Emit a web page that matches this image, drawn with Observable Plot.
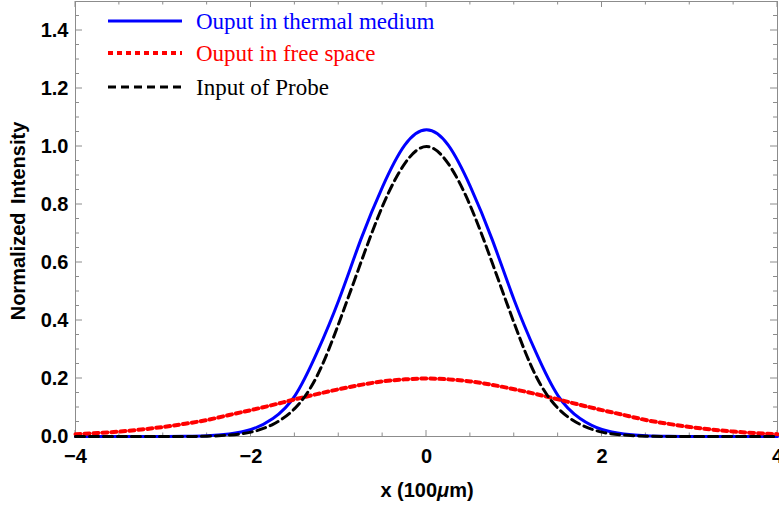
<!DOCTYPE html>
<html>
<head>
<meta charset="utf-8">
<script src="https://cdn.jsdelivr.net/npm/d3@7"></script>
<script src="https://cdn.jsdelivr.net/npm/@observablehq/plot@0.6"></script>
<style>
  html, body { margin: 0; padding: 0; background: #fff; }
  #chart { width: 779px; height: 506px; }
</style>
</head>
<body>
<div id="chart"></div>
<script>
// ---- data ----
const xs = [-4, -3.75, -3.5, -3.25, -3, -2.75, -2.5, -2.25, -2, -1.75, -1.5, -1.25, -1, -0.75, -0.5, -0.25,
            0, 0.25, 0.5, 0.75, 1, 1.25, 1.5, 1.75, 2, 2.25, 2.5, 2.75, 3, 3.25, 3.5, 3.75, 4];
const thermal = [0, 0, 0, 0, 0, 0.001, 0.003, 0.009, 0.024, 0.062, 0.14, 0.288, 0.47, 0.678, 0.862, 1.004,
                 1.058, 1.004, 0.862, 0.678, 0.47, 0.288, 0.14, 0.062, 0.024, 0.009, 0.003, 0.001, 0, 0, 0, 0, 0];
const freeSpace = [0.008, 0.012, 0.017, 0.024, 0.033, 0.044, 0.057, 0.074, 0.091, 0.109, 0.128, 0.146, 0.163, 0.178, 0.19, 0.197,
                   0.2, 0.197, 0.19, 0.178, 0.163, 0.146, 0.128, 0.109, 0.091, 0.074, 0.057, 0.044, 0.033, 0.024, 0.017, 0.012, 0.008];
const probe = [0, 0, 0, 0, 0, 0, 0.001, 0.005, 0.015, 0.042, 0.097, 0.207, 0.39, 0.598, 0.795, 0.94,
               1.0, 0.94, 0.795, 0.598, 0.39, 0.207, 0.097, 0.042, 0.015, 0.005, 0.001, 0, 0, 0, 0, 0, 0];

const seriesNames = ["Ouput in thermal medium", "Ouput in free space", "Input of Probe"];
const seriesColors = ["#0000ff", "#ff0000", "#000000"];

const xMajorTicks = [-4, -2, 0, 2, 4];
const xMinorTicks = [-3.5, -3, -2.5, -1.5, -1, -0.5, 0.5, 1, 1.5, 2.5, 3, 3.5];
const yMajorTicks = [0, 0.2, 0.4, 0.6, 0.8, 1.0, 1.2, 1.4];
const yMinorTicks = [0.05, 0.1, 0.15, 0.25, 0.3, 0.35, 0.45, 0.5, 0.55, 0.65, 0.7, 0.75, 0.85, 0.9, 0.95,
                     1.05, 1.1, 1.15, 1.25, 1.3, 1.35, 1.45];

const xLabel = "x (100";
const xLabelMu = "μ";
const xLabelEnd = "m)";
const yLabel = "Normalized Intensity";

// ---- build tables ----
const thermalData = xs.map((x, i) => ({x, y: thermal[i]}));
const freeData = xs.map((x, i) => ({x, y: freeSpace[i]}));
const probeData = xs.map((x, i) => ({x, y: probe[i]}));

const frameGray = "#8c8c8c";
const W = 779, H = 506;

const svg = Plot.plot({
  width: W,
  height: H,
  marginLeft: 75,
  marginRight: 2,
  marginTop: 1,
  marginBottom: 70,
  style: {fontFamily: "'Liberation Sans', Arial, sans-serif", fontSize: "20px", fontWeight: "bold", background: "white", overflow: "visible"},
  x: {domain: [-4, 4]},
  y: {domain: [0, 1.5]},
  marks: [
    Plot.frame({stroke: frameGray, strokeWidth: 1}),
    Plot.axisX(xMajorTicks, {anchor: "bottom", tickSize: 0, tickPadding: 12, fill: "black", label: null}),
    Plot.axisY(yMajorTicks, {anchor: "left", tickSize: 0, tickPadding: 7, tickFormat: d3.format(".1f"), fill: "black", label: null}),
    // curves
    Plot.line(thermalData, {x: "x", y: "y", stroke: seriesColors[0], strokeWidth: 3, curve: "natural"}),
    Plot.line(freeData, {x: "x", y: "y", stroke: seriesColors[1], strokeWidth: 4, strokeDasharray: "5,4", curve: "natural"}),
    Plot.line(probeData, {x: "x", y: "y", stroke: seriesColors[2], strokeWidth: 3, strokeDasharray: "9,5", curve: "natural"})
  ]
});

const s = d3.select(svg);
const sx = svg.scale("x"), sy = svg.scale("y");
const [x0, x1] = sx.range;
const [y0, y1] = sy.range; // y0 bottom, y1 top

// inward ticks on all four sides, positioned through Plot's scales
const tg = s.insert("g", ":nth-child(3)").attr("stroke", frameGray).attr("stroke-width", 1);
function xTicks(vals, len) {
  vals.forEach(v => {
    const px = sx.apply(v);
    tg.append("line").attr("x1", px).attr("x2", px).attr("y1", y0).attr("y2", y0 - len);
    tg.append("line").attr("x1", px).attr("x2", px).attr("y1", y1).attr("y2", y1 + len);
  });
}
function yTicks(vals, len) {
  vals.forEach(v => {
    const py = sy.apply(v);
    tg.append("line").attr("y1", py).attr("y2", py).attr("x1", x0).attr("x2", x0 + len);
    tg.append("line").attr("y1", py).attr("y2", py).attr("x1", x1).attr("x2", x1 - len);
  });
}
xTicks(xMajorTicks, 6);
xTicks(xMinorTicks, 3.5);
yTicks(yMajorTicks, 7);
yTicks(yMinorTicks, 4);

// axis titles
const xt = s.append("text")
  .attr("x", 427).attr("y", 497)
  .attr("text-anchor", "middle")
  .attr("font-family", "'Liberation Sans', Arial, sans-serif")
  .attr("font-size", 20).attr("font-weight", "bold").attr("fill", "black");
xt.append("tspan").text(xLabel);
xt.append("tspan").attr("font-style", "italic").text(xLabelMu);
xt.append("tspan").text(xLabelEnd);

s.append("text")
  .attr("transform", "translate(25,221) rotate(-90)")
  .attr("text-anchor", "middle")
  .attr("font-family", "'Liberation Sans', Arial, sans-serif")
  .attr("font-size", 20).attr("font-weight", "bold").attr("fill", "black")
  .attr("word-spacing", 3)
  .text(yLabel);

// legend
const legendY = [21, 53, 87];
const dashes = [null, "5,4", "8,5"];
const widths = [3, 4, 3];
const lg = s.append("g");
seriesNames.forEach((name, i) => {
  lg.append("line")
    .attr("x1", 108).attr("x2", 182)
    .attr("y1", legendY[i]).attr("y2", legendY[i])
    .attr("stroke", seriesColors[i])
    .attr("stroke-width", widths[i])
    .attr("stroke-dasharray", dashes[i]);
  lg.append("text")
    .attr("x", 196).attr("y", legendY[i] + 8)
    .attr("text-anchor", "start")
    .attr("font-family", "'Liberation Serif', 'Times New Roman', serif")
    .attr("font-size", 23).attr("font-weight", "normal")
    .attr("fill", seriesColors[i])
    .text(name);
});

document.getElementById("chart").appendChild(svg);
</script>
</body>
</html>
